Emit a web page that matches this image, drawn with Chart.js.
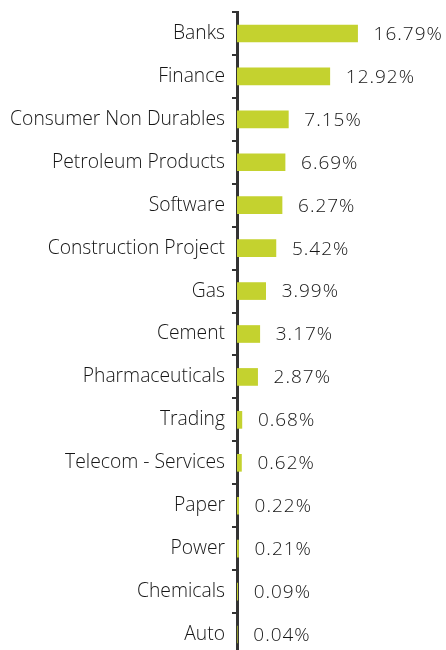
<!DOCTYPE html>
<html><head><meta charset="utf-8">
<script src="https://cdn.jsdelivr.net/npm/chart.js@4"></script>
<style>html,body{margin:0;padding:0;background:#fff;overflow:hidden}#wrap{width:446px;height:656px}</style>
</head><body><div id="wrap"><canvas id="c" width="446" height="656"></canvas></div>
<script>
const categories = ["Banks","Finance","Consumer Non Durables","Petroleum Products","Software","Construction Project","Gas","Cement","Pharmaceuticals","Trading","Telecom - Services","Paper","Power","Chemicals","Auto"];
const values = [16.79,12.92,7.15,6.69,6.27,5.42,3.99,3.17,2.87,0.68,0.62,0.22,0.21,0.09,0.04];
const valueLabels = ["16.79%","12.92%","7.15%","6.69%","6.27%","5.42%","3.99%","3.17%","2.87%","0.68%","0.62%","0.22%","0.21%","0.09%","0.04%"];

const FONT = "'Open Sans', 'Noto Sans', sans-serif";
const valuePlugin = {
  id: 'vals',
  afterDatasetsDraw(chart) {
    const ctx = chart.ctx;
    const meta = chart.getDatasetMeta(0);
    ctx.save();
    ctx.font = "300 19px " + FONT;
    try { ctx.letterSpacing = "1px"; } catch (e) {}
    ctx.fillStyle = "#151515";
    ctx.textBaseline = "middle";
    ctx.textAlign = "left";
    meta.data.forEach((bar, i) => {
      ctx.fillText(valueLabels[i], bar.x + 16, bar.y + 1);
    });
    ctx.restore();
  }
};

new Chart(document.getElementById('c'), {
  type: 'bar',
  data: { labels: categories, datasets: [{ data: values, backgroundColor: '#c4d22f', barThickness: 17, borderWidth: 0 }] },
  options: {
    indexAxis: 'y', responsive: false, animation: false,
    layout: { padding: { top: 12, right: 0, bottom: 0, left: 0 } },
    plugins: { legend: { display: false }, tooltip: { enabled: false } },
    scales: {
      x: { display: false, min: 0, max: 29.1 },
      y: {
        afterFit(s) { s.width = 237; s.paddingTop = 0; s.paddingBottom = 0; },
        grid: { offset: true, drawOnChartArea: false, drawTicks: true, tickLength: 5, color: '#333', lineWidth: 2 },
        border: { display: true, color: '#333', width: 3 },
        ticks: { color: '#151515', font: { family: FONT, size: 19.3, weight: '300' }, padding: 7 }
      }
    }
  },
  plugins: [valuePlugin]
});
</script></body></html>
